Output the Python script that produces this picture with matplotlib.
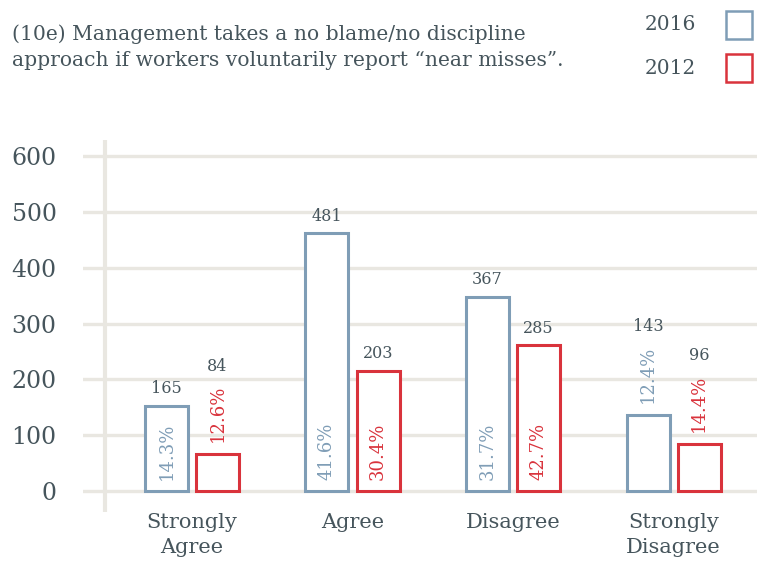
import numpy as np
import matplotlib.pyplot as plt

categories = ['Strongly\nAgree', 'Agree', 'Disagree', 'Strongly\nDisagree']
years = ['2016', '2012']
# bar heights as drawn in the reference (scale 0-600)
bars_2016 = [153, 462, 348, 137]
bars_2012 = [66, 215, 261, 85]
# labels printed on the chart
counts_2016 = [165, 481, 367, 143]
counts_2012 = [84, 203, 285, 96]
pct_2016 = ['14.3%', '41.6%', '31.7%', '12.4%']
pct_2012 = ['12.6%', '30.4%', '42.7%', '14.4%']
y_ticks = [0, 100, 200, 300, 400, 500, 600]

c2016 = '#7f9db6'
c2012 = '#d9333c'
text_c = '#46555c'
grid_c = '#e9e7e1'
font = 'DejaVu Serif'

fig = plt.figure(figsize=(7.57, 5.61), dpi=100)
ax = fig.add_axes([83 / 757, 49 / 561, 674 / 757, 372 / 561])

x = np.arange(len(categories))
w = 0.268
off = 0.159

ax.set_xlim(-0.679, 3.52)
ax.set_ylim(-37.6, 628.7)

for t in y_ticks:
    ax.axhline(t, color=grid_c, lw=2.4, zorder=0)
ax.axvline(-0.542, color=grid_c, lw=3, zorder=0)

for vals, counts, pcts, col, sign in [(bars_2016, counts_2016, pct_2016, c2016, -1),
                                      (bars_2012, counts_2012, pct_2012, c2012, 1)]:
    xs = x + sign * off
    ax.bar(xs, vals, width=w, facecolor='white', edgecolor=col, lw=2.2, zorder=2)
    for xi, h, n, p in zip(xs, vals, counts, pcts):
        if h > 145:
            # percentage inside the bar, count just above it
            ax.text(xi, 20, p, rotation=90, ha='center', va='bottom',
                    color=col, fontsize=13, family=font, zorder=3)
            ax.annotate(str(n), (xi, h), xytext=(0, 17), textcoords='offset pixels',
                        ha='center', va='center', color=text_c, fontsize=11.5, family=font)
        else:
            # short bar: percentage and count stacked above it
            ax.annotate(p, (xi, h), xytext=(0, 12), textcoords='offset pixels',
                        rotation=90, ha='center', va='bottom', color=col,
                        fontsize=13, family=font)
            ax.annotate(str(n), (xi, h), xytext=(0, 88), textcoords='offset pixels',
                        ha='center', va='center', color=text_c, fontsize=11.5, family=font)

ax.set_yticks(y_ticks)
ax.set_yticklabels([str(t) for t in y_ticks], family=font, fontsize=17, color=text_c)
ax.set_xticks(x)
ax.set_xticklabels(categories, family=font, fontsize=15, color=text_c, linespacing=1.4)
ax.tick_params(axis='y', length=0, pad=19)
ax.tick_params(axis='x', length=0, pad=1)
for s in ax.spines.values():
    s.set_visible(False)

fig.text(12 / 757, 1 - 47 / 561, '(10e) Management takes a no blame/no discipline\n'
         'approach if workers voluntarily report \u201cnear misses\u201d.',
         ha='left', va='center', family=font, fontsize=14.6, color=text_c,
         linespacing=1.5)

# legend
for i, (yr, col) in enumerate(zip(years, [c2016, c2012])):
    yc = 25 + 43 * i
    fig.text(670 / 757, 1 - yc / 561, yr, ha='center', va='center',
             family=font, fontsize=14.5, color=text_c)
    fig.patches.append(plt.Rectangle((726 / 757, 1 - (yc + 14) / 561), 26 / 757, 28 / 561,
                                     transform=fig.transFigure, facecolor='white',
                                     edgecolor=col, lw=1.8))

fig.savefig('out.png', dpi=100)
